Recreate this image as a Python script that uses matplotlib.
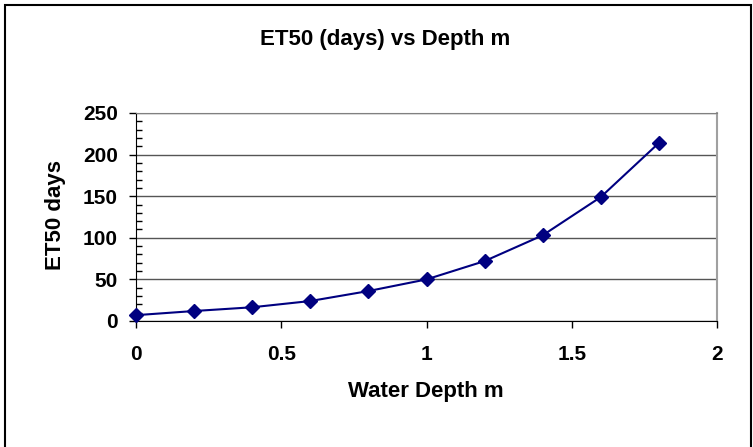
import matplotlib.pyplot as plt
from matplotlib.patches import Rectangle
from matplotlib.ticker import MultipleLocator

plt.rcParams['font.family'] = ['Liberation Sans', 'DejaVu Sans']
plt.rcParams['font.weight'] = 'bold'

# data
depth = [0, 0.2, 0.4, 0.6, 0.8, 1.0, 1.2, 1.4, 1.6, 1.8]
et50 = [7, 12, 16.5, 24, 36, 50, 72, 103, 149, 214]
x_ticks = [0, 0.5, 1, 1.5, 2]
x_labels = ['0', '0.5', '1', '1.5', '2']
y_ticks = [0, 50, 100, 150, 200, 250]

W, H = 753, 447
fig = plt.figure(figsize=(W / 100, H / 100), dpi=100)
ax = fig.add_axes([136 / W, 1 - 321 / H, (717 - 136) / W, (321 - 113) / H])

# outer chart border
fig.patches.append(Rectangle((5 / W, -0.1), (751 - 5) / W, 1.1 - 5 / H,
                             transform=fig.transFigure, fill=False,
                             edgecolor='black', linewidth=1.5))

ax.plot(depth, et50, color='#000080', linewidth=1.5, marker='D',
        markersize=7, markeredgewidth=1, clip_on=False, zorder=3)

ax.set_xlim(0, 2)
ax.set_ylim(0, 250)
ax.set_xticks(x_ticks)
ax.set_xticklabels(x_labels)
ax.set_yticks(y_ticks)
ax.yaxis.set_minor_locator(MultipleLocator(10))

ax.grid(axis='y', color='#555555', linewidth=1)
ax.set_axisbelow(True)

ax.tick_params(axis='both', which='major', direction='out', length=5,
               width=1, color='black', labelsize=15)
ax.tick_params(axis='x', pad=12)
ax.tick_params(axis='y', pad=8)
ax.tick_params(axis='y', which='minor', direction='in', length=4, width=1)
ax.tick_params(axis='x', which='minor', length=0)

ax.spines['left'].set_color('black')
ax.spines['bottom'].set_color('black')
ax.spines['top'].set_color('#808080')
ax.spines['right'].set_color('#a0a0a0')
ax.spines['right'].set_linewidth(1.5)

fig.text(385 / W, 1 - 40 / H, 'ET50 (days) vs Depth m', fontsize=16,
         fontweight='bold', ha='center', va='center')
fig.text(426 / W, 1 - 392 / H, 'Water Depth m', fontsize=16,
         fontweight='bold', ha='center', va='center')
fig.text(55 / W, 1 - 215 / H, 'ET50 days', fontsize=16, fontweight='bold',
         ha='center', va='center', rotation=90)

fig.savefig('out.png', dpi=100)
